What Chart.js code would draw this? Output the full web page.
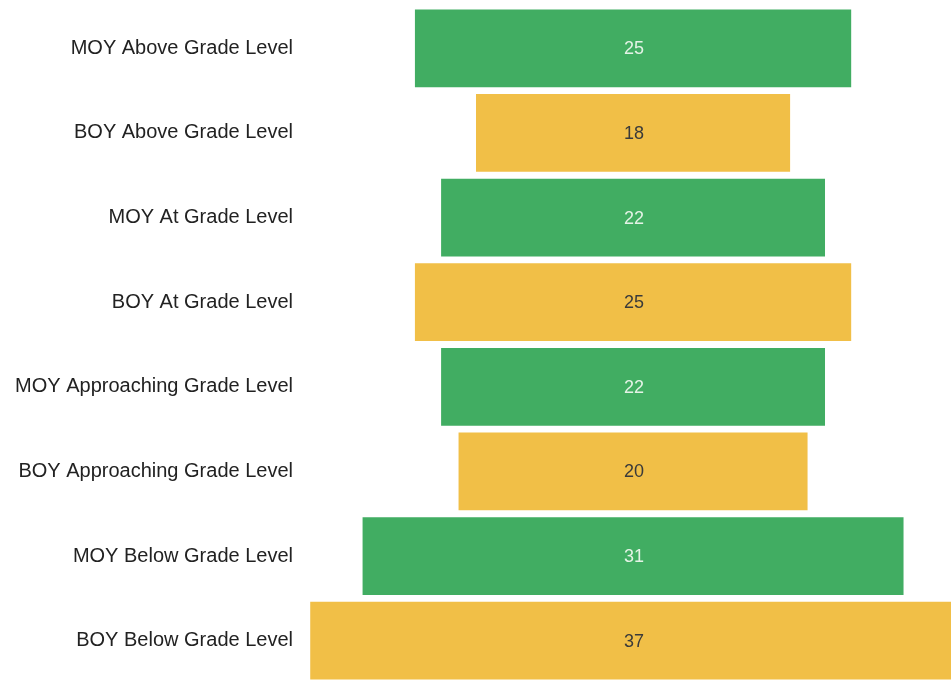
<!DOCTYPE html>
<html>
<head>
<meta charset="utf-8">
<script src="https://cdn.jsdelivr.net/npm/chart.js@4/dist/chart.umd.min.js"></script>
<style>
  html, body { margin: 0; padding: 0; background: #fff; }
  #wrap { width: 951px; height: 683px; }
</style>
</head>
<body>
<div id="wrap"><canvas id="gradeChart"></canvas></div>
<script>
const categories = [
  'MOY Above Grade Level',
  'BOY Above Grade Level',
  'MOY At Grade Level',
  'BOY At Grade Level',
  'MOY Approaching Grade Level',
  'BOY Approaching Grade Level',
  'MOY Below Grade Level',
  'BOY Below Grade Level'
];
const counts = [25, 18, 22, 25, 22, 20, 31, 37];

const GREEN = '#41ad62';
const YELLOW = '#f1bf47';
const barColors = categories.map(c => c.startsWith('MOY') ? GREEN : YELLOW);
const textColors = categories.map(c => c.startsWith('MOY') ? '#e4f3e6' : '#3a3a3a');

// bars float around zero so the stack looks like a funnel
const spans = counts.map(v => [-v / 2, v / 2]);

const valueLabels = {
  id: 'valueLabels',
  afterDatasetsDraw(chart) {
    const ctx = chart.ctx;
    const meta = chart.getDatasetMeta(0);
    ctx.save();
    ctx.font = '18px "Liberation Sans", Arial, sans-serif';
    ctx.textAlign = 'center';
    ctx.textBaseline = 'middle';
    meta.data.forEach((bar, i) => {
      ctx.fillStyle = textColors[i];
      ctx.fillText(String(counts[i]), chart.scales.x.getPixelForValue(0) + 1, bar.y + 1);
    });
    ctx.restore();
  }
};

const ctx = document.getElementById('gradeChart').getContext('2d');
new Chart(ctx, {
  type: 'bar',
  data: {
    labels: categories,
    datasets: [{
      data: spans,
      backgroundColor: barColors,
      borderWidth: 0,
      barPercentage: 0.92,
      categoryPercentage: 1
    }]
  },
  options: {
    indexAxis: 'y',
    responsive: true,
    maintainAspectRatio: false,
    animation: false,
    // last band runs slightly past the bottom edge
    layout: { padding: { top: 6, bottom: -3, left: 0, right: 0 } },
    plugins: {
      legend: { display: false },
      tooltip: { enabled: false }
    },
    scales: {
      x: {
        display: false,
        min: -18.57,
        max: 18.22
      },
      y: {
        grid: { display: false },
        border: { display: false },
        ticks: {
          color: '#222',
          padding: 8,
          font: { family: '"Liberation Sans", Arial, sans-serif', size: 20 }
        },
        afterFit(scale) {
          scale.width = 309;
          // no extra room above/below for the edge labels
          scale.paddingTop = 0;
          scale.paddingBottom = 0;
        }
      }
    }
  },
  plugins: [valueLabels]
});
</script>
</body>
</html>
